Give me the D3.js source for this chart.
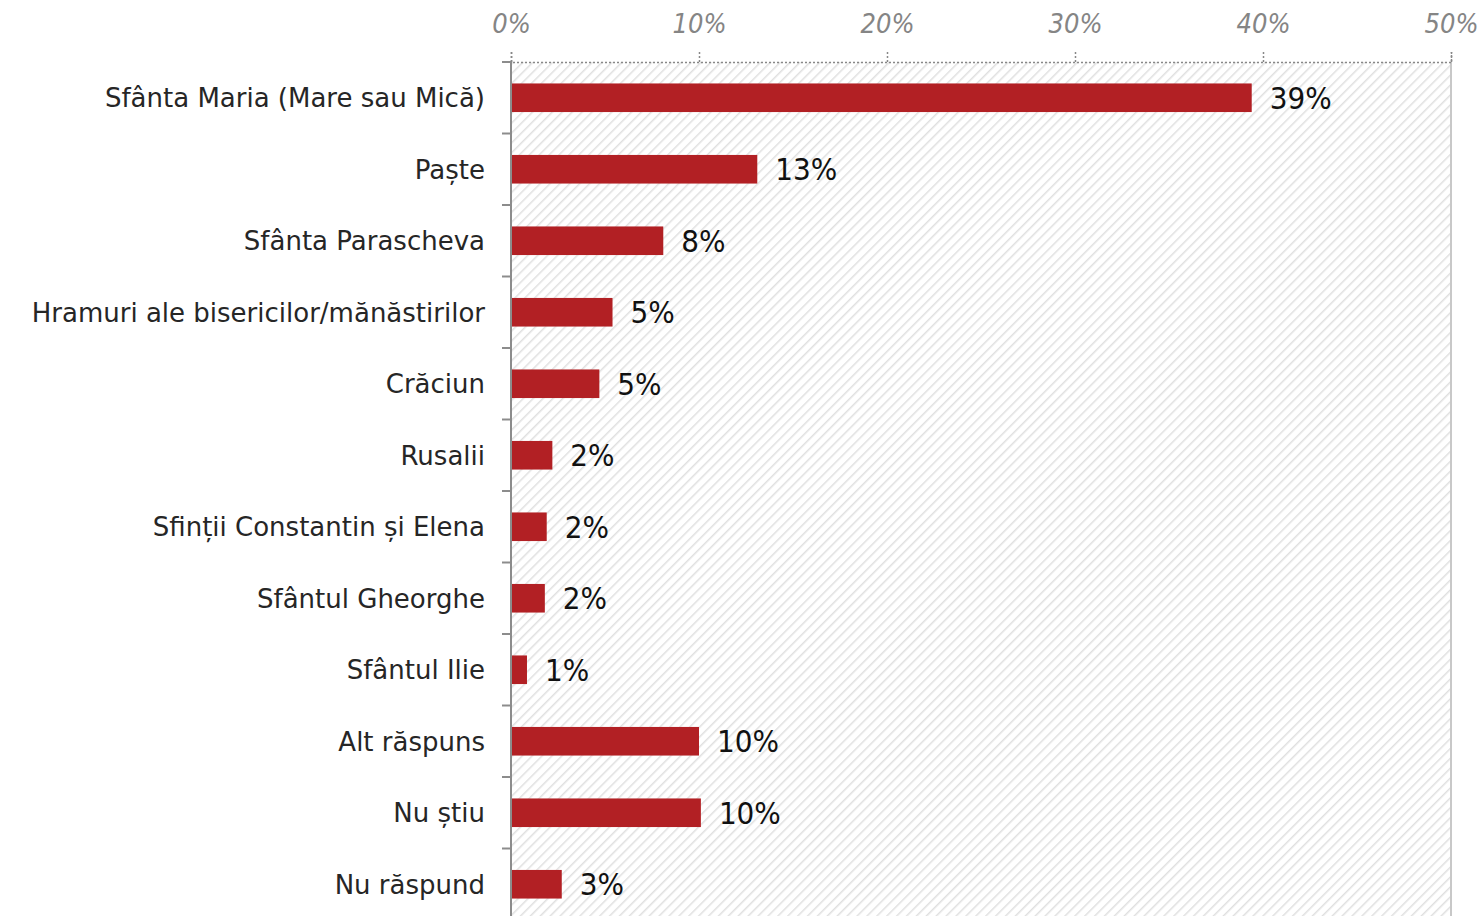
<!DOCTYPE html>
<html>
<head>
<meta charset="utf-8">
<script src="https://cdn.jsdelivr.net/npm/d3@7"></script>
<style>
	body { margin: 0; background: #fff; }
	svg { display: block; }
</style>
</head>
<body>
<svg id="chart"></svg>
<script>
// data
var categories = [
	"Sfânta Maria (Mare sau Mică)",
	"Paște",
	"Sfânta Parascheva",
	"Hramuri ale bisericilor/mănăstirilor",
	"Crăciun",
	"Rusalii",
	"Sfinții Constantin și Elena",
	"Sfântul Gheorghe",
	"Sfântul Ilie",
	"Alt răspuns",
	"Nu știu",
	"Nu răspund"
];
var values = [39.4, 13.1, 8.1, 5.4, 4.7, 2.2, 1.9, 1.8, 0.85, 10.0, 10.1, 2.7];
var valueLabels = ["39%", "13%", "8%", "5%", "5%", "2%", "2%", "2%", "1%", "10%", "10%", "3%"];
var xTicks = [0, 10, 20, 30, 40, 50];

var W = 1482, H = 916;
var margin = { top: 62, left: 511, right: 31 };
var plotBottom = 920;

var svg = d3.select("#chart").attr("width", W).attr("height", H);

var x = d3.scaleLinear().domain([0, 50]).range([margin.left, W - margin.right]);
var y = d3.scaleBand().domain(categories).range([margin.top, plotBottom]).paddingInner(0.6).paddingOuter(0.3);

// hatched background
var defs = svg.append("defs");
var pat = defs.append("pattern")
	.attr("id", "hatch")
	.attr("patternUnits", "userSpaceOnUse")
	.attr("width", 7).attr("height", 7)
	.attr("patternTransform", "rotate(45)");
pat.append("rect").attr("width", 7).attr("height", 7).attr("fill", "#fff");
pat.append("line")
	.attr("x1", 0).attr("y1", 0).attr("x2", 0).attr("y2", 7)
	.attr("stroke", "#e0e0e0").attr("stroke-width", 3);

svg.append("rect")
	.attr("x", x(0)).attr("y", margin.top)
	.attr("width", x(50) - x(0)).attr("height", plotBottom - margin.top)
	.attr("fill", "url(#hatch)");

// right border
svg.append("line")
	.attr("x1", x(50)).attr("x2", x(50))
	.attr("y1", margin.top).attr("y2", H)
	.attr("stroke", "#c8c8c8").attr("stroke-width", 2);

// top axis, dotted
var xAxis = svg.append("g")
	.attr("transform", "translate(0," + margin.top + ")")
	.call(d3.axisTop(x).tickValues(xTicks).tickFormat(function(d) { return d + "%"; }).tickSize(10).tickPadding(19));
xAxis.select(".domain").attr("stroke", "#888").attr("stroke-dasharray", "2,2").attr("stroke-width", 1.5);
xAxis.selectAll(".tick line").attr("stroke", "#888").attr("stroke-dasharray", "2,2").attr("stroke-width", 1.5);
xAxis.selectAll(".tick text")
	.attr("fill", "#858585")
	.attr("font-family", "'DejaVu Sans Condensed', 'DejaVu Sans', sans-serif")
	.attr("font-style", "italic")
	.attr("font-size", 27);

// left axis with ticks between categories
var bounds = categories.map(function(c) { return y(c) - y.step() * y.paddingInner() / 2; });
var yAxis = svg.append("g");
yAxis.append("line")
	.attr("x1", x(0)).attr("x2", x(0))
	.attr("y1", margin.top).attr("y2", H)
	.attr("stroke", "#8c8c8c").attr("stroke-width", 2);
yAxis.selectAll(".ytick")
	.data(bounds)
	.enter()
	.append("line")
	.attr("class", "ytick")
	.attr("x1", x(0) - 9).attr("x2", x(0))
	.attr("y1", function(d) { return d; }).attr("y2", function(d) { return d; })
	.attr("stroke", "#8c8c8c").attr("stroke-width", 2);

// bars
svg.selectAll(".bar")
	.data(values)
	.enter()
	.append("rect")
	.attr("class", "bar")
	.attr("x", x(0) + 1)
	.attr("y", function(d, i) { return y(categories[i]); })
	.attr("width", function(d) { return x(d) - x(0) - 1; })
	.attr("height", y.bandwidth())
	.attr("fill", "#b22024");

// value labels
svg.selectAll(".val")
	.data(values)
	.enter()
	.append("text")
	.attr("class", "val")
	.attr("x", function(d) { return x(d) + 18; })
	.attr("y", function(d, i) { return y(categories[i]) + y.bandwidth() / 2; })
	.attr("dy", "0.36em")
	.attr("font-family", "'DejaVu Sans Condensed', 'DejaVu Sans', sans-serif")
	.attr("font-size", 31)
	.attr("fill", "#111")
	.text(function(d, i) { return valueLabels[i]; });

// category labels
svg.selectAll(".cat")
	.data(categories)
	.enter()
	.append("text")
	.attr("class", "cat")
	.attr("x", x(0) - 26)
	.attr("y", function(d) { return y(d) + y.bandwidth() / 2; })
	.attr("dy", "0.36em")
	.attr("text-anchor", "end")
	.attr("font-family", "'DejaVu Sans', sans-serif")
	.attr("font-size", 26)
	.attr("fill", "#262626")
	.text(function(d) { return d; });
</script>
</body>
</html>
